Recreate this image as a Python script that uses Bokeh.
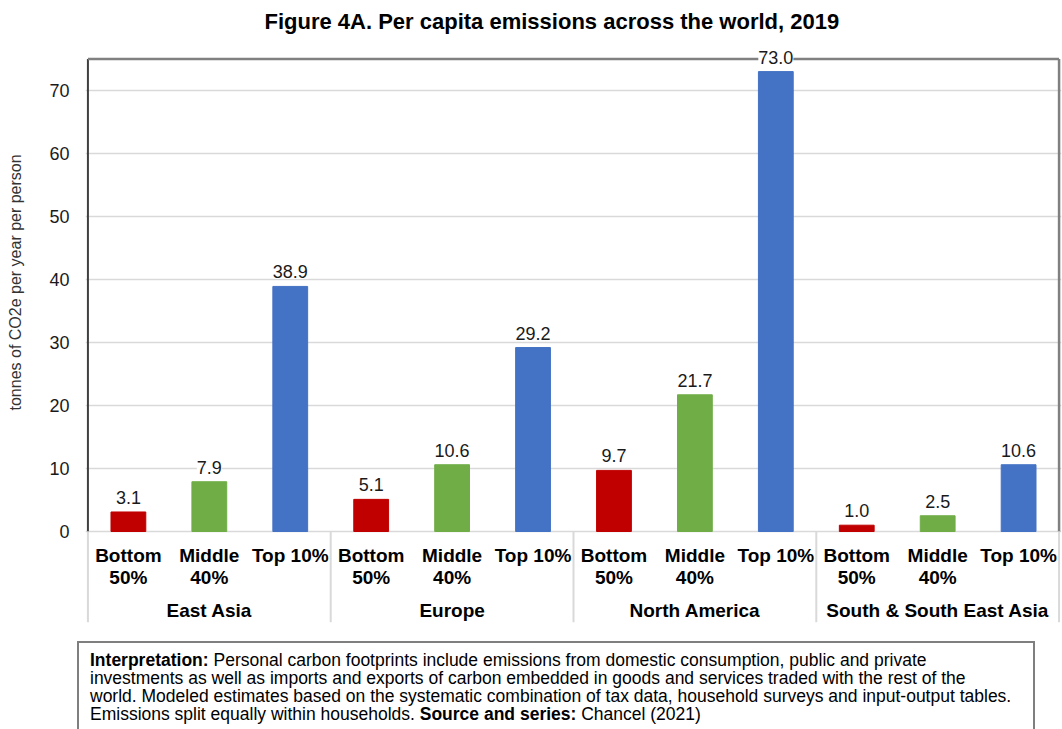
from bokeh.plotting import figure
from bokeh.models import FactorRange, Range1d, FixedTicker, LabelSet, ColumnDataSource, Div, Title
from bokeh.layouts import column
from bokeh.core.properties import value
from bokeh.embed import file_html
from bokeh.resources import INLINE

# ---- data -------------------------------------------------------------
regions = ["East Asia", "Europe", "North America", "South & South East Asia"]
groups = ["Bottom 50%", "Middle 40%", "Top 10%"]
group_labels = ["Bottom\n50%", "Middle\n40%", "Top 10%"]
bottom_50 = [3.1, 5.1, 9.7, 1.0]
middle_40 = [7.9, 10.6, 21.7, 2.5]
top_10 = [38.9, 29.2, 73.0, 10.6]
y_ticks = [0, 10, 20, 30, 40, 50, 60, 70]
y_title = "tonnes of CO2e per year per person"

series = {"Bottom 50%": bottom_50, "Middle 40%": middle_40, "Top 10%": top_10}
palette = {"Bottom 50%": "#c00000", "Middle 40%": "#70ad47", "Top 10%": "#4472c4"}

FONT = "Liberation Sans"
PX_PER_UNIT = 6.3
Y_TOP = 75

factors = [(r, g) for r in regions for g in groups]
vals = [series[g][i] for i, r in enumerate(regions) for g in groups]
src = ColumnDataSource(dict(
    x=factors,
    y=vals,
    color=[palette[g] for r in regions for g in groups],
    label=["%.1f" % v for v in vals],
    sub=[group_labels[groups.index(g)] for r in regions for g in groups],
))

x_range = FactorRange(factors=factors, factor_padding=0, group_padding=0,
                      subgroup_padding=0, range_padding=0.03,
                      range_padding_units="absolute")
y_range = Range1d(-99 / PX_PER_UNIT, 495 / PX_PER_UNIT)

p = figure(x_range=x_range, y_range=y_range, width=1062, height=640,
           output_backend="svg", toolbar_location=None, x_axis_location=None,
           min_border_left=85, min_border_right=1, min_border_top=36,
           min_border_bottom=10,
           title="Figure 4A. Per capita emissions across the world, 2019")
p.outline_line_color = None
p.background_fill_color = "white"
p.border_fill_color = "white"

p.title.align = "left"
p.title.offset = 179
p.title.text_font = FONT
p.title.text_font_size = "22px"
p.title.text_font_style = "bold"
p.title.text_color = "#000000"
p.title.standoff = 6

# y axis: tick labels, plus a blank axis label that only reserves a gap
# between the tick labels and the side title
ax = p.yaxis[0]
ax.ticker = FixedTicker(ticks=y_ticks)
ax.axis_line_color = None
ax.major_tick_line_color = None
ax.minor_tick_line_color = None
ax.major_tick_out = 0
ax.major_tick_in = 0
ax.minor_tick_out = 0
ax.major_label_standoff = 16
ax.major_label_text_font = FONT
ax.major_label_text_font_size = "18px"
ax.major_label_text_color = "#1a1a1a"
ax.axis_label = " "
ax.axis_label_text_font_size = "1px"
ax.axis_label_standoff = 18

# vertical title, centred on the value area rather than the whole frame
p.add_layout(Title(text=y_title, align="left", offset=220,
                   vertical_align="middle", standoff=0, text_font=FONT,
                   text_font_size="16px", text_font_style="normal",
                   text_color="#333333"), "left")

p.xgrid.visible = False
p.ygrid.ticker = FixedTicker(ticks=y_ticks)
p.ygrid.grid_line_color = "#d9d9d9"
p.ygrid.grid_line_width = 1.5

# plot-area border: dark left edge, grey top and right edges
left_edge = (regions[0], groups[0], -0.5)
right_edge = (regions[-1], groups[-1], 0.5)
p.segment(x0=[left_edge], y0=[0], x1=[left_edge], y1=[Y_TOP],
          line_color="#404040", line_width=2)
p.segment(x0=[left_edge, right_edge], y0=[Y_TOP, 0],
          x1=[right_edge, right_edge], y1=[Y_TOP, Y_TOP],
          line_color="#808080", line_width=2.5)

# region separators below the axis
seps = [(r, groups[0], -0.5) for r in regions] + [right_edge]
p.segment(x0=seps, y0=[0] * len(seps), x1=seps, y1=[-14.4] * len(seps),
          line_color="#d9d9d9", line_width=2)

# bars
p.vbar(x="x", top="y", width=0.43, fill_color="color", line_color="color",
       source=src)

# category labels
p.text(x="x", y=-2.2, text="sub", source=src, text_align="center",
       text_baseline="top", text_font=value(FONT), text_font_size="19px",
       text_font_style="bold", text_color="#000000", text_line_height=1.05)
p.text(x=[(r, groups[1]) for r in regions], y=[-12.55] * len(regions),
       text=regions, text_align="center", text_baseline="middle",
       text_font=value(FONT), text_font_size="19px", text_font_style="bold",
       text_color="#000000")

# value labels
labels = LabelSet(x="x", y="y", text="label", source=src, y_offset=8,
                  text_align="center", text_baseline="bottom",
                  text_font=value(FONT), text_font_size="18px",
                  text_color="#1a1a1a", background_fill_color="white")
p.add_layout(labels)

note = Div(width=1062, height=89, margin=0, text=(
    '<div style="box-sizing:border-box;margin-left:77px;margin-top:1px;'
    'width:958px;height:100px;'
    'border:2px solid #7f7f7f;border-bottom:none;padding:8px 11px;'
    'font-family:\'Liberation Sans\';font-size:17.5px;line-height:18px;'
    'color:#000;white-space:nowrap;">'
    '<b>Interpretation:</b> Personal carbon footprints include emissions from '
    'domestic consumption, public and private<br>'
    'investments as well as imports and exports of carbon embedded in goods '
    'and services traded with the rest of the<br>'
    'world. Modeled estimates based on the systematic combination of tax data, '
    'household surveys and input-output tables.<br>'
    'Emissions split equally within households. <b>Source and series:</b> '
    'Chancel (2021)</div>'))

layout = column(p, note, spacing=0)
open("out.html", "w").write(file_html(layout, INLINE))
